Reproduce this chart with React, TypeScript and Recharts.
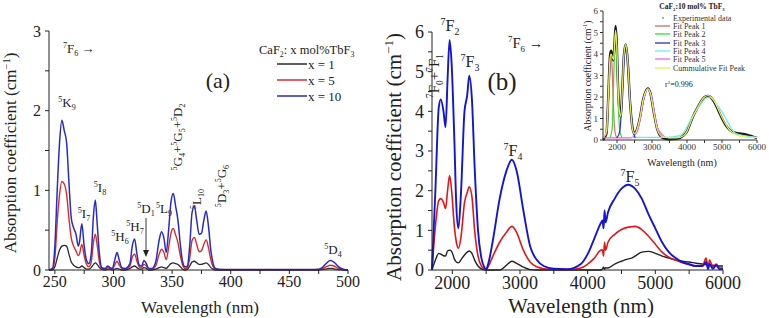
import { LineChart, Line, XAxis, YAxis } from 'recharts';

const serif = 'Liberation Serif, Times New Roman, serif';

// (a) UV-visible absorption, CaF2 : x mol% TbF3
const waveA = [
  245, 248, 250, 252, 254, 256, 258, 260, 262, 264, 266, 268, 270, 271, 273, 275, 277, 279, 281, 283,
  284.5, 286, 288, 290, 293, 295, 297, 299, 301, 303, 305, 307, 310, 314, 316, 318, 320, 322, 324, 326,
  328, 330, 333, 336, 339, 341, 343, 345, 347, 349, 351, 353, 355, 357, 359, 361, 363, 365, 367, 369,
  371, 373, 375, 377, 379, 381, 383, 385, 387, 390, 400, 420, 440, 460, 470, 475, 478, 482, 485, 488,
  492, 496, 500,
];
const absA10 = [
  0, 0.02, 0.3, 1.0, 1.6, 1.88, 1.75, 1.6, 1.1, 0.65, 0.53, 0.45, 0.3, 0.35, 0.58, 0.3, 0.12, 0.08, 0.2, 0.7,
  0.88, 0.6, 0.2, 0.03, 0.02, 0.05, 0.03, 0.02, 0.12, 0.22, 0.12, 0.03, 0.02, 0.08, 0.3, 0.39, 0.2, 0.06, 0.05, 0.12,
  0.08, 0.02, 0.02, 0.1, 0.38, 0.48, 0.4, 0.22, 0.5, 0.85, 0.96, 0.8, 0.62, 0.32, 0.1, 0.04, 0.05, 0.3, 0.72, 0.8,
  0.62, 0.45, 0.46, 0.62, 0.74, 0.55, 0.25, 0.08, 0.02, 0.01, 0.005, 0.005, 0.005, 0.005, 0.005, 0.01, 0.03, 0.09, 0.12, 0.1,
  0.04, 0.01, 0,
];
const absA5 = [
  0, 0.01, 0.15, 0.6, 0.95, 1.11, 1.08, 0.95, 0.65, 0.4, 0.3, 0.24, 0.18, 0.2, 0.32, 0.18, 0.07, 0.04, 0.1, 0.36,
  0.45, 0.32, 0.1, 0.02, 0.01, 0.03, 0.02, 0.01, 0.06, 0.11, 0.06, 0.02, 0.01, 0.05, 0.16, 0.2, 0.11, 0.04, 0.03, 0.07,
  0.05, 0.01, 0.01, 0.05, 0.2, 0.26, 0.22, 0.13, 0.28, 0.46, 0.52, 0.44, 0.34, 0.18, 0.06, 0.02, 0.03, 0.15, 0.37, 0.41,
  0.32, 0.23, 0.24, 0.32, 0.38, 0.28, 0.13, 0.04, 0.01, 0.005, 0.004, 0.004, 0.004, 0.004, 0.004, 0.006, 0.015, 0.045, 0.06, 0.05,
  0.02, 0.005, 0,
];
const absA1 = [
  0, 0, 0.04, 0.15, 0.25, 0.3, 0.31, 0.3, 0.2, 0.1, 0.06, 0.04, 0.03, 0.03, 0.05, 0.03, 0.01, 0.01, 0.03, 0.07,
  0.09, 0.07, 0.03, 0.01, 0, 0.01, 0.01, 0, 0.01, 0.02, 0.01, 0, 0, 0.02, 0.04, 0.05, 0.03, 0.01, 0.01, 0.03,
  0.02, 0, 0, 0.01, 0.03, 0.04, 0.03, 0.02, 0.05, 0.08, 0.09, 0.08, 0.07, 0.04, 0.01, 0, 0.01, 0.05, 0.1, 0.11,
  0.09, 0.07, 0.07, 0.08, 0.09, 0.07, 0.03, 0.01, 0, 0, 0, 0, 0, 0, 0, 0, 0.005, 0.015, 0.02, 0.015,
  0.005, 0, 0,
];

// (b) mid-IR absorption
const waveB = [
  1700, 1750, 1800, 1830, 1870, 1900, 1930, 1960, 1990, 2030, 2060, 2090, 2130, 2180, 2220, 2250, 2290, 2330, 2380, 2430,
  2470, 2500, 2530, 2600, 2700, 2800, 2880, 2950, 3050, 3150, 3250, 3350, 3500, 3700, 3900, 4000, 4100, 4200, 4220, 4235,
  4250, 4265, 4300, 4400, 4500, 4600, 4650, 4700, 4800, 4900, 5000, 5100, 5200, 5300, 5400, 5500, 5600, 5700, 5750, 5780,
  5800, 5850, 5900, 5950, 6000,
];
const absB10 = [
  0, 2.0, 4.1, 4.3, 4.0, 3.6, 4.8, 5.8, 5.2, 3.3, 1.6, 1.05, 2.0, 4.0, 4.4, 4.9, 4.3, 2.6, 1.0, 0.3,
  0.08, 0.02, 0.15, 0.75, 1.8, 2.5, 2.78, 2.5, 1.5, 0.6, 0.25, 0.1, 0.03, 0.02, 0.15, 0.4, 0.8, 1.2, 1.25, 1.05,
  1.5, 1.2, 1.45, 1.8, 2.05, 2.15, 2.12, 2.05, 1.8, 1.4, 1.05, 0.7, 0.45, 0.3, 0.2, 0.15, 0.1, 0.1, 0.2, 0.02,
  0.15, 0.03, 0.12, 0.02, 0.03,
];
const absB5 = [
  0, 1.1, 1.75, 1.8, 1.7, 1.55, 2.0, 2.38, 2.0, 1.1, 0.7, 0.55, 0.85, 1.7, 1.95, 2.1, 1.85, 1.0, 0.35, 0.1,
  0.03, 0.01, 0.08, 0.35, 0.7, 0.95, 1.1, 0.95, 0.5, 0.2, 0.08, 0.03, 0.01, 0.01, 0.05, 0.15, 0.3, 0.5, 0.5, 0.35,
  0.7, 0.5, 0.7, 0.9, 1.02, 1.08, 1.09, 1.1, 1.02, 0.85, 0.65, 0.45, 0.32, 0.25, 0.18, 0.13, 0.1, 0.12, 0.3, 0.05,
  0.25, 0.08, 0.15, 0.05, 0.05,
];
const absB1 = [
  0, 0.25, 0.42, 0.4, 0.36, 0.35, 0.48, 0.5, 0.47, 0.28, 0.2, 0.18, 0.26, 0.38, 0.45, 0.48, 0.42, 0.25, 0.1, 0.03,
  0.01, 0, 0, 0, 0, 0.12, 0.22, 0.17, 0.07, 0.01, 0, 0, 0, 0, 0, 0, 0, 0, 0.03, 0.07,
  0.02, 0.06, 0.05, 0.15, 0.22, 0.28, 0.3, 0.35, 0.45, 0.47, 0.42, 0.35, 0.3, 0.25, 0.22, 0.2, 0.17, 0.15, 0.14, 0.14,
  0.13, 0.12, 0.11, 0.1, 0.1,
];

// inset: peak fit of the 10 mol% sample
const waveFit = [
  1600, 1700, 1750, 1800, 1830, 1870, 1900, 1930, 1960, 1990, 2030, 2080, 2110, 2150, 2200, 2250, 2300, 2380, 2450, 2500,
  2550, 2650, 2750, 2880, 2950, 3050, 3150, 3300, 3500, 3700, 3900, 4000, 4100, 4200, 4300, 4400, 4500, 4620, 4700, 4800,
  4900, 5000, 5100, 5200, 5300, 5500, 5600, 5700, 5800, 5900, 6000,
];
const expData = [
  0, 0.3, 2.0, 3.9, 4.15, 3.9, 3.7, 4.5, 5.3, 4.6, 2.5, 1.2, 1.1, 2.3, 4.0, 4.45, 3.8, 1.6, 0.5, 0.3,
  0.4, 1.0, 1.9, 2.4, 2.2, 1.3, 0.5, 0.1, 0.03, 0.05, 0.2, 0.4, 0.8, 1.2, 1.5, 1.8, 2.0, 2.05, 1.95, 1.7,
  1.35, 1.0, 0.7, 0.5, 0.38, 0.3, 0.28, 0.25, 0.2, 0.15, 0.1,
];
const cumFit = [
  0.1, 0.4, 2.0, 3.8, 4.0, 3.85, 3.75, 4.4, 5.1, 4.5, 2.5, 1.2, 1.1, 2.3, 4.0, 4.45, 3.8, 1.6, 0.45, 0.3,
  0.4, 1.0, 1.9, 2.38, 2.2, 1.3, 0.5, 0.15, 0.1, 0.1, 0.2, 0.4, 0.8, 1.2, 1.5, 1.8, 2.0, 2.07, 1.98, 1.75,
  1.4, 1.05, 0.75, 0.5, 0.35, 0.18, 0.15, 0.13, 0.12, 0.12, 0.12,
];
const peak1Wave = [1600, 1700, 1760, 1800, 1830, 1860, 1900, 1950, 2000];
const peak1Abs = [0.1, 0.3, 2.0, 3.5, 3.9, 3.4, 1.5, 0.3, 0.1];
const peak2Wave = [1800, 1860, 1900, 1930, 1960, 1990, 2030, 2080, 2150];
const peak2Abs = [0.1, 0.5, 2.5, 4.3, 5.0, 4.3, 2.0, 0.4, 0.1];
const peak3Wave = [2000, 2080, 2150, 2200, 2250, 2300, 2370, 2450, 2520];
const peak3Abs = [0.1, 0.4, 2.2, 3.8, 4.4, 3.8, 2.0, 0.5, 0.1];
const peak4Wave = [2400, 3400, 3800, 4200, 4620, 5000, 5400, 6000];
const peak4Abs = [0.12, 0.12, 0.2, 1.2, 2.0, 1.3, 0.3, 0.12];
const peak5Wave = [1600, 2400, 2600, 2750, 2880, 3000, 3150, 3400];
const peak5Abs = [0.1, 0.1, 0.5, 1.8, 2.38, 1.9, 0.6, 0.1];

const tableA = waveA.map((w, i) => ({ w, x1: absA1[i], x5: absA5[i], x10: absA10[i] }));
const tableB = waveB.map((w, i) => ({ w, x1: absB1[i], x5: absB5[i], x10: absB10[i] }));
const toPts = (ws: number[], ys: number[]) => ws.map((w, i) => ({ w, y: ys[i] }));

const intLabel = (v: number) => (Number.isInteger(v) ? String(v) : '');
const steps = (a: number, b: number, s: number) => {
  const out: number[] = [];
  for (let v = a; v <= b + 1e-9; v += s) out.push(Math.round(v * 100) / 100);
  return out;
};

type Seg = [string, 'n' | 'u' | 'd'];

// text with super/subscripts (term symbols)
function Rich({ x, y, segs, size, anchor = 'middle', rotate = 0, weight = 'normal' }: {
  x: number; y: number; segs: Seg[]; size: number; anchor?: string; rotate?: number; weight?: string;
}) {
  let cur = 0;
  return (
    <text
      x={x}
      y={y}
      style={{ fontFamily: serif, fontSize: size, fontWeight: weight as any }}
      fill="#222"
      textAnchor={anchor as any}
      transform={rotate ? `rotate(${rotate} ${x} ${y})` : undefined}
    >
      {segs.map(([t, k], i) => {
        const target = k === 'u' ? -0.38 * size : k === 'd' ? 0.25 * size : 0;
        const dy = target - cur;
        cur = target;
        return (
          <tspan key={i} dy={dy} style={{ fontSize: k === 'n' ? size : size * 0.62 }}>
            {t}
          </tspan>
        );
      })}
    </text>
  );
}

const term = (sup: string, main: string, sub: string): Seg[] => [[sup, 'u'], [main, 'n'], [sub, 'd']];
const absLabel: Seg[] = [['Absorption coefficient (cm', 'n'], ['−1', 'u'], [')', 'n']];

const axisProps = { stroke: '#222', tickSize: 4, interval: 0 as const };

export default function App() {
  return (
    <div style={{ position: 'absolute', left: 0, top: 0, width: 769, height: 318, background: '#fff', fontFamily: serif }}>
      <div style={{ position: 'absolute', left: 0, top: 0 }}>
        <LineChart width={370} height={318} data={tableA} margin={{ top: 31, right: 22, left: 0, bottom: 0 }}>
          <XAxis
            dataKey="w"
            type="number"
            domain={[245, 500]}
            ticks={steps(250, 500, 25)}
            tickFormatter={(v: number) => (v % 50 === 0 ? String(v) : '')}
            height={48}
            tickMargin={2}
            tick={{ fill: '#222', fontSize: 16, fontFamily: serif }}
            {...axisProps}
          />
          <YAxis
            type="number"
            domain={[0, 3]}
            ticks={steps(0, 3, 0.5)}
            tickFormatter={intLabel}
            width={49}
            tickMargin={4}
            tick={{ fill: '#222', fontSize: 16, fontFamily: serif }}
            {...axisProps}
          />
          <Line type="monotone" dataKey="x1" stroke="#2b2b2b" strokeWidth={1.3} dot={false} isAnimationActive={false} />
          <Line type="monotone" dataKey="x5" stroke="#d92b2b" strokeWidth={1.4} dot={false} isAnimationActive={false} />
          <Line type="monotone" dataKey="x10" stroke="#2a2ac4" strokeWidth={1.5} dot={false} isAnimationActive={false} />
        </LineChart>
      </div>

      <div style={{ position: 'absolute', left: 370, top: 0 }}>
        <LineChart width={399} height={318} data={tableB} margin={{ top: 32, right: 46, left: 0, bottom: 0 }}>
          <XAxis
            dataKey="w"
            type="number"
            domain={[1700, 6000]}
            ticks={steps(2000, 6000, 500)}
            tickFormatter={(v: number) => (v % 1000 === 0 ? String(v) : '')}
            height={48}
            tickMargin={2}
            tick={{ fill: '#222', fontSize: 18, fontFamily: serif }}
            {...axisProps}
          />
          <YAxis
            type="number"
            domain={[0, 6]}
            ticks={steps(0, 6, 0.5)}
            tickFormatter={intLabel}
            width={62}
            tickMargin={4}
            tick={{ fill: '#222', fontSize: 18, fontFamily: serif }}
            {...axisProps}
          />
          <Line type="monotone" dataKey="x1" stroke="#222" strokeWidth={1.4} dot={false} isAnimationActive={false} />
          <Line type="monotone" dataKey="x5" stroke="#e01818" strokeWidth={1.6} dot={false} isAnimationActive={false} />
          <Line type="monotone" dataKey="x10" stroke="#1414d8" strokeWidth={1.9} dot={false} isAnimationActive={false} />
        </LineChart>
      </div>

      <div style={{ position: 'absolute', left: 560, top: 0 }}>
        <LineChart width={209} height={170} margin={{ top: 11, right: 12, left: 0, bottom: 0 }}>
          <XAxis
            dataKey="w"
            type="number"
            domain={[1600, 6000]}
            ticks={steps(2000, 6000, 500)}
            tickFormatter={(v: number) => (v % 1000 === 0 ? String(v) : '')}
            height={30}
            tickMargin={1}
            tick={{ fill: '#333', fontSize: 9, fontFamily: serif }}
            stroke="#333"
            tickSize={3}
            interval={0}
          />
          <YAxis
            type="number"
            domain={[0, 6]}
            ticks={steps(0, 6, 0.5)}
            tickFormatter={intLabel}
            width={43}
            tickMargin={2}
            tick={{ fill: '#333', fontSize: 9, fontFamily: serif }}
            stroke="#333"
            tickSize={3}
            interval={0}
          />
          <Line data={toPts(waveFit, expData)} type="monotone" dataKey="y" stroke="#1a1a1a" strokeWidth={2.4} dot={false} isAnimationActive={false} />
          <Line data={toPts(peak5Wave, peak5Abs)} type="monotone" dataKey="y" stroke="#ee66ee" strokeWidth={1.2} dot={false} isAnimationActive={false} />
          <Line data={toPts(peak4Wave, peak4Abs)} type="monotone" dataKey="y" stroke="#66eeee" strokeWidth={1.2} dot={false} isAnimationActive={false} />
          <Line data={toPts(peak1Wave, peak1Abs)} type="monotone" dataKey="y" stroke="#d07060" strokeWidth={1.2} dot={false} isAnimationActive={false} />
          <Line data={toPts(peak2Wave, peak2Abs)} type="monotone" dataKey="y" stroke="#33dd33" strokeWidth={1.2} dot={false} isAnimationActive={false} />
          <Line data={toPts(peak3Wave, peak3Abs)} type="monotone" dataKey="y" stroke="#2a2acc" strokeWidth={1.2} dot={false} isAnimationActive={false} />
          <Line data={toPts(waveFit, cumFit)} type="monotone" dataKey="y" stroke="#eded55" strokeWidth={1.2} dot={false} isAnimationActive={false} />
        </LineChart>
      </div>

      <svg width={769} height={318} style={{ position: 'absolute', left: 0, top: 0, pointerEvents: 'none' }}>
        {/* panel (a) */}
        <Rich x={16} y={153} segs={absLabel} size={17} rotate={-90} />
        <Rich x={200} y={313} segs={[['Wavelength (nm)', 'n']]} size={17} />
        <Rich x={63} y={53} segs={[...term('7', 'F', '6'), [' →', 'n']]} size={13} anchor="start" />
        <Rich x={259} y={54} segs={[['CaF', 'n'], ['2', 'd'], [': x mol%TbF', 'n'], ['3', 'd']]} size={12.5} anchor="start" />
        {[
          { label: 'x = 1', c: '#2b2b2b', y: 64 },
          { label: 'x = 5', c: '#d92b2b', y: 80 },
          { label: 'x = 10', c: '#2a2ac4', y: 96 },
        ].map((r) => (
          <g key={r.label}>
            <line x1={277} x2={307} y1={r.y} y2={r.y} stroke={r.c} strokeWidth={1.5} />
            <text x={308} y={r.y + 4.5} style={{ fontFamily: serif, fontSize: 13 }} fill="#222">{r.label}</text>
          </g>
        ))}
        <text x={218} y={88} style={{ fontFamily: serif, fontSize: 22 }} fill="#222" textAnchor="middle">(a)</text>
        <Rich x={67} y={107} segs={term('5', 'K', '9')} size={13} />
        <Rich x={84} y={218} segs={term('5', 'I', '7')} size={13} />
        <Rich x={100} y={192} segs={term('5', 'I', '8')} size={13} />
        <Rich x={120} y={241} segs={term('5', 'H', '6')} size={13} />
        <Rich x={135} y={231} segs={term('5', 'H', '7')} size={13} />
        <Rich x={146} y={213} segs={term('5', 'D', '1')} size={13} />
        <Rich x={164} y={213} segs={term('5', 'L', '9')} size={13} />
        <Rich x={182} y={137} segs={[...term('5', 'G', '4'), ['+', 'n'], ...term('5', 'G', '5'), ['+', 'n'], ...term('5', 'D', '2')]} size={13} rotate={-90} />
        <Rich x={201} y={199} segs={term('5', 'L', '10')} size={13} rotate={-90} />
        <Rich x={226} y={186} segs={[...term('5', 'D', '3'), ['+', 'n'], ...term('5', 'G', '6')]} size={13} rotate={-90} />
        <Rich x={333} y={254} segs={term('5', 'D', '4')} size={13} />
        <line x1={146} x2={146} y1={218} y2={251} stroke="#222" strokeWidth={0.9} />
        <polygon points="143,250 149,250 146,257" fill="#222" />

        {/* panel (b) */}
        <Rich x={401} y={157} segs={absLabel} size={21} rotate={-90} />
        <Rich x={581} y={313} segs={[['Wavelength (nm)', 'n']]} size={21} />
        <Rich x={508} y={48} segs={[...term('7', 'F', '6'), [' →', 'n']]} size={14.5} anchor="start" />
        <text x={502} y={90} style={{ fontFamily: serif, fontSize: 25 }} fill="#222" textAnchor="middle">(b)</text>
        <Rich x={450} y={31} segs={term('7', 'F', '2')} size={16} />
        <Rich x={470} y={67} segs={term('7', 'F', '3')} size={16} />
        <Rich x={439} y={76} segs={[...term('7', 'F', '0'), ['+', 'n'], ...term('7', 'F', '1')]} size={15} rotate={-90} />
        <Rich x={513} y={156} segs={term('7', 'F', '4')} size={16} />
        <Rich x={630} y={182} segs={term('7', 'F', '5')} size={16} />

        {/* inset */}
        <Rich x={591} y={76} segs={[['Absorption coefficient (cm', 'n'], ['-1', 'u'], [')', 'n']]} size={9.5} rotate={-90} />
        <Rich x={682} y={166} segs={[['Wavelength (nm)', 'n']]} size={10} />
        <Rich x={692} y={9} segs={[['CaF', 'n'], ['2', 'd'], [':10 mol% TbF', 'n'], ['3', 'd']]} size={7.5} weight="bold" />
        <circle cx={663} cy={18} r={0.8} fill="#444" />
        {[
          { label: 'Experimental data', c: '', y: 18 },
          { label: 'Fit Peak 1', c: '#d07060', y: 26 },
          { label: 'Fit Peak 2', c: '#33dd33', y: 34 },
          { label: 'Fit Peak 3', c: '#2a2acc', y: 43 },
          { label: 'Fit Peak 4', c: '#66eeee', y: 51 },
          { label: 'Fit Peak 5', c: '#ee66ee', y: 59 },
          { label: 'Cummulative Fit Peak', c: '#eded55', y: 68 },
        ].map((r) => (
          <g key={r.label}>
            {r.c && <line x1={655} x2={670} y1={r.y} y2={r.y} stroke={r.c} strokeWidth={1.3} />}
            <text x={673} y={r.y + 3} style={{ fontFamily: serif, fontSize: 8 }} fill="#333">{r.label}</text>
          </g>
        ))}
        <Rich x={665} y={87} segs={[['r', 'n'], ['2', 'u'], ['=0.996', 'n']]} size={8} anchor="start" />
      </svg>
    </div>
  );
}
